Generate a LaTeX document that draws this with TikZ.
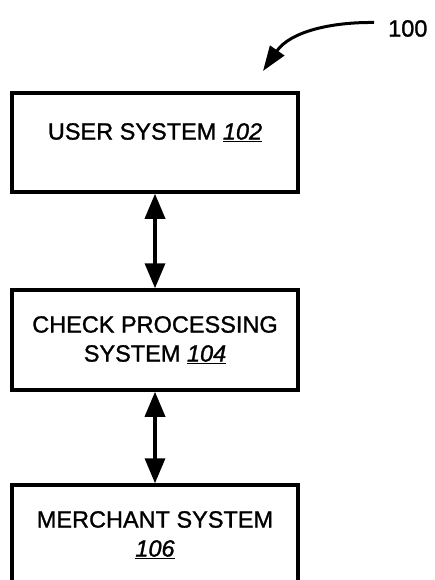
\documentclass[tikz,border=0pt]{standalone}
\usepackage{fontspec}
\setmainfont{Liberation Sans}[FakeBold=1.2]
\usetikzlibrary{arrows.meta}
\begin{document}
\begin{tikzpicture}[x=1pt,y=-1pt,
  box/.style={draw=black, line width=3.5pt, rectangle, inner sep=0pt},
  lbl/.style={font=\fontsize{23.5}{29}\selectfont, align=center, inner sep=0pt},
  link/.style={line width=3.5pt, {Triangle[width=20pt,length=25pt]}-{Triangle[width=20pt,length=25pt]}},
  ref/.style={line width=3pt, -{Triangle[width=17pt,length=25pt]}}
]
\useasboundingbox (0,0) rectangle (435,580);
\clip (0,0) rectangle (435,580);
\node[box, minimum width=286pt, minimum height=99pt] (u) at (155,142.5) {};
\node[box, minimum width=286pt, minimum height=100pt] (c) at (155,340) {};
\node[box, minimum width=286pt, minimum height=140pt] (m) at (155,555) {};
\node[lbl] (ut) at (155,132.5) {USER SYSTEM \underline{\itshape 102}};
\node[lbl] (ct) at (155,340) {CHECK PROCESSING\\SYSTEM \underline{\itshape 104}};
\node[lbl] (mt) at (155,535) {MERCHANT SYSTEM\\\underline{\itshape 106}};
\draw[link] (u.south) -- (c.north);
\draw[link] (c.south) -- (m.north);
\node[lbl, anchor=west] (n100) at (388,28.5) {100};
\coordinate (s) at (374,22.5);
\coordinate (t) at (263,71);
\draw[ref] (s) .. controls (330,22) and (290,32) .. (t);
\end{tikzpicture}
\end{document}
